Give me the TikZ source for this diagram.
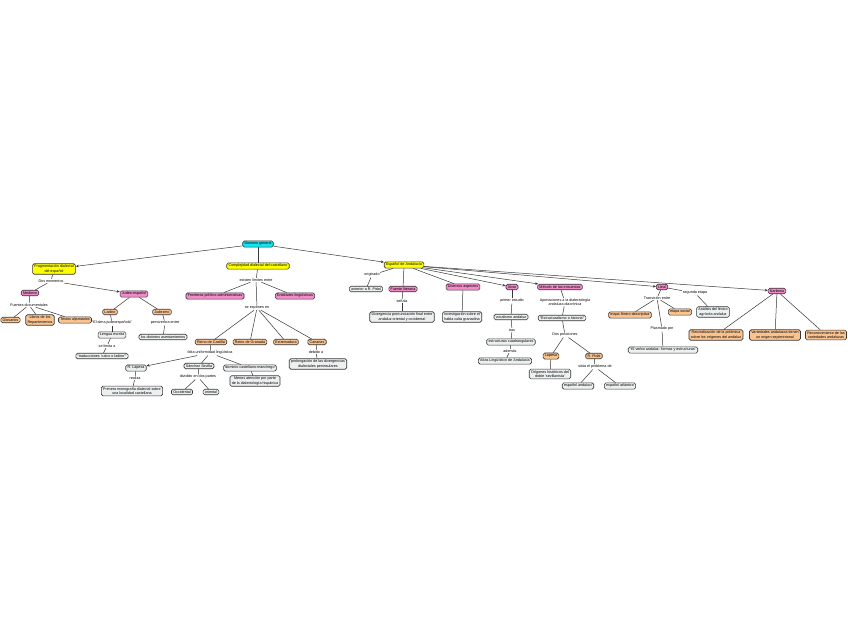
\documentclass[tikz,border=0pt]{standalone}
\usepackage{fontspec}
\setmainfont{Liberation Sans}
\usetikzlibrary{arrows.meta}
\definecolor{ccyan}{RGB}{20,228,238}
\definecolor{cyel}{RGB}{255,255,0}
\definecolor{cpink}{RGB}{240,140,200}
\definecolor{corange}{RGB}{250,196,146}
\definecolor{clight}{RGB}{236,240,240}
\definecolor{cline}{RGB}{55,55,55}
\tikzset{
  concept/.style={draw=cline, line width=0.6pt, rounded corners=1.6pt, inner xsep=1.8pt, inner ysep=1.4pt,
    font=\fontsize{3.7}{4.2}\selectfont, align=center},
  cy/.style={concept, fill=ccyan},
  ye/.style={concept, fill=cyel},
  pk/.style={concept, fill=cpink},
  orn/.style={concept, fill=corange},
  lt/.style={concept, fill=clight},
  lb/.style={inner sep=0.6pt, font=\fontsize{3.7}{4.2}\selectfont, align=center},
  conn/.style={draw=cline, line width=0.5pt},
  arr/.style={conn, -{Stealth[length=3pt,width=2.6pt]}}
}
\begin{document}
\begin{tikzpicture}[x=1pt,y=-1pt]
\useasboundingbox[fill=white] (0,0) rectangle (848,638);
% top level
\node[cy] (dom) at (258,244) {Dominio general};
\node[ye] (frag) at (54,269) {Fragmentación dialectal\\del español};
\node[ye] (comp) at (258,266) {Complejidad dialectal del castellano};
\node[ye] (and) at (404,265) {Español de Andalucía};
% left branch
\node[lb] (l1) at (51,281) {Dos momentos};
\node[pk] (med) at (30,293) {Medievo};
\node[pk] (jud) at (134,294) {Judeo-español};
\node[lb] (l2) at (29,305) {Fuentes documentales};
\node[orn] (glo) at (10.5,320) {Glosarios};
\node[orn] (lib) at (40,320) {Libros de los\\Repartimientos};
\node[orn] (tex) at (75,320) {Textos aljamiados};
\node[orn] (lad) at (110,312) {Ladino};
\node[orn] (judz) at (162,312) {Judezmo};
\node[lb] (l3) at (112,323) {“El alma judeoespañola”};
\node[lt] (len) at (112,335) {Lengua escrita};
\node[lb] (l4) at (107,346) {se limita a};
\node[lt] (trad) at (102,356) {“traducciones ‘calco o ladino’”};
\node[lb] (l5) at (165,323) {pervivencia entre};
\node[lt] (asen) at (163,337) {los distintos asentamientos};
% middle branch
\node[lb] (l6) at (256,280) {existen límites entre};
\node[pk] (fron) at (215,296) {Fronteras político-administrativas};
\node[pk] (ent) at (295,296) {Entidades lingüísticas};
\node[lb] (l7) at (257,308) {se exponen en};
\node[orn] (rcas) at (211,342) {Reino de Castilla};
\node[orn] (rgra) at (250,342) {Reino de Granada};
\node[orn] (ext) at (286,342) {Extremadura};
\node[orn] (can) at (317,342) {Canarias};
\node[lb] (l8) at (210,353) {falta uniformidad lingüística};
\node[lt] (lap) at (136,368) {R. Lapesa};
\node[lt] (san) at (199,366) {Sánchez Sevilla};
\node[lt] (dcm) at (250,368) {dominio castellano-manchego};
\node[lb] (l9) at (135,378) {realiza};
\node[lt] (mono) at (132,391) {Primera monografía dialectal sobre\\una localidad castellana};
\node[lb] (l10) at (198,377) {dividido en dos partes};
\node[lt] (occ) at (182,392) {Occidental};
\node[lt] (ori) at (211,392) {oriental};
\node[lt] (men) at (255,381) {Menos atención por parte\\de la dialectología hispánica};
\node[lb] (l11) at (316,352) {debido a};
\node[lt] (prol) at (318,364) {prolongación de las divergencias\\dialectales peninsulares};
% right branch
\node[lb] (l12) at (372,275) {originado};
\node[lt] (ant) at (366,289) {anterior a R. Pidal};
\node[pk] (fue) at (403,289) {Fuente literaria};
\node[lb] (l13) at (402,301) {señala};
\node[lt] (div) at (402,317) {Divergencia pronunciación final entre\\andaluz oriental y occidental};
\node[pk] (dive) at (463,287) {Diversos aspectos};
\node[lt] (inv) at (462,317) {Investigación sobre el\\habla culta granadina};
\node[pk] (alv) at (512,287) {Alvar};
\node[lb] (l14) at (512,301) {primer estudio};
\node[lt] (voc) at (511,317) {vocalismo andaluz};
\node[lb] (l15) at (512,330) {tras};
\node[lt] (est) at (511,342) {estructuras cuadrangulares};
\node[lb] (l16) at (510,351) {además};
\node[lt] (atl) at (505,361) {Atlas Lingüístico de Andalucía};
\node[pk] (met) at (560,287) {Método de las encuestas};
\node[lb] (l17) at (565,302) {Aportaciones a la dialectología\\andaluza diacrónica};
\node[lt] (eoh) at (562,318) {“Estructuralismo o historia”};
\node[lb] (l18) at (565,335) {Dos posiciones};
\node[orn] (lap2) at (551,356) {Lapesa};
\node[orn] (pid) at (594,356) {R. Pidal};
\node[lt] (orig) at (550,374) {Orígenes históricos del\\doble ‘sevillanista’};
\node[lb] (l19) at (595,367) {sitúa el problema de};
\node[lt] (eand) at (578,386) {español andalucí};
\node[lt] (eatl) at (620,386) {español atlántico};
\node[pk] (col) at (662,287) {Lleal};
\node[lb] (l20) at (657,298) {Transición entre};
\node[orn] (efd) at (630,315) {etapa fónico-descriptiva};
\node[orn] (esoc) at (680,312) {etapa social};
\node[lb] (l21) at (695,293) {segunda etapa};
\node[lt] (anl) at (713,312) {Análisis del léxico\\agrícola andaluz};
\node[lb] (l22) at (662,329) {Plasmado por};
\node[lt] (verb) at (663,350) {“El verbo andaluz: formas y estructuras”};
\node[pk] (nar) at (777,291) {Narbona};
\node[orn] (rei) at (716,335) {Reivindicación de la polémica\\sobre los orígenes del andaluz};
\node[orn] (var) at (775,335) {Variedades andaluzas tienen\\un origen septentrional};
\node[orn] (rec) at (826,335) {Reconocimiento de las\\variedades andaluzas};
% connectors
\draw[arr] (dom) -- (frag);
\draw[conn] (dom) -- (comp);
\draw[arr] (dom) -- (and);
\draw[conn] (frag) -- (l1);
\draw[conn] (l1) -- (med);
\draw[arr] (l1) -- (jud);
\draw[conn] (med) -- (l2);
\draw[conn] (l2) -- (glo);
\draw[conn] (l2) -- (lib);
\draw[conn] (l2) -- (tex);
\draw[conn] (jud) -- (lad);
\draw[conn] (jud) -- (judz);
\draw[conn] (lad) -- (l3);
\draw[conn] (l3) -- (len);
\draw[conn] (len) -- (l4);
\draw[conn] (l4) -- (trad);
\draw[conn] (judz) -- (l5);
\draw[conn] (l5) -- (asen);
\draw[conn] (comp) -- (l6);
\draw[conn] (l6) -- (fron);
\draw[conn] (l6) -- (ent);
\draw[conn] (l6) -- (l7);
\draw[conn] (l7) -- (rcas);
\draw[conn] (l7) -- (rgra);
\draw[conn] (l7) -- (ext);
\draw[conn] (l7) -- (can);
\draw[conn] (rcas) -- (l8);
\draw[arr] (l8) -- (lap);
\draw[conn] (l8) -- (san);
\draw[conn] (l8) -- (dcm);
\draw[conn] (lap) -- (l9);
\draw[conn] (l9) -- (mono);
\draw[conn] (san) -- (l10);
\draw[conn] (l10) -- (occ);
\draw[conn] (l10) -- (ori);
\draw[conn] (dcm) -- (men);
\draw[conn] (can) -- (l11);
\draw[conn] (l11) -- (prol);
\draw[conn] (and) -- (l12);
\draw[conn] (l12) -- (ant);
\draw[conn] (and) -- (fue);
\draw[conn] (fue) -- (l13);
\draw[conn] (l13) -- (div);
\draw[conn] (and) -- (dive);
\draw[conn] (dive) -- (inv);
\draw[arr] (and) -- (alv);
\draw[conn] (alv) -- (l14);
\draw[conn] (l14) -- (voc);
\draw[conn] (voc) -- (l15);
\draw[conn] (l15) -- (est);
\draw[conn] (est) -- (l16);
\draw[conn] (l16) -- (atl);
\draw[arr] (and) -- (met);
\draw[conn] (met) -- (l17);
\draw[conn] (l17) -- (eoh);
\draw[conn] (eoh) -- (l18);
\draw[conn] (l18) -- (lap2);
\draw[conn] (l18) -- (pid);
\draw[conn] (lap2) -- (orig);
\draw[conn] (pid) -- (l19);
\draw[conn] (l19) -- (eand);
\draw[conn] (l19) -- (eatl);
\draw[arr] (and) -- (col);
\draw[conn] (col) -- (l20);
\draw[conn] (l20) -- (efd);
\draw[conn] (l20) -- (esoc);
\draw[conn] (col) -- (l21);
\draw[conn] (l21) -- (anl);
\draw[conn] (l20) -- (l22);
\draw[conn] (l22) -- (verb);
\draw[arr] (and) -- (nar);
\draw[conn] (nar) -- (rei);
\draw[conn] (nar) -- (var);
\draw[conn] (nar) -- (rec);
\end{tikzpicture}
\end{document}
